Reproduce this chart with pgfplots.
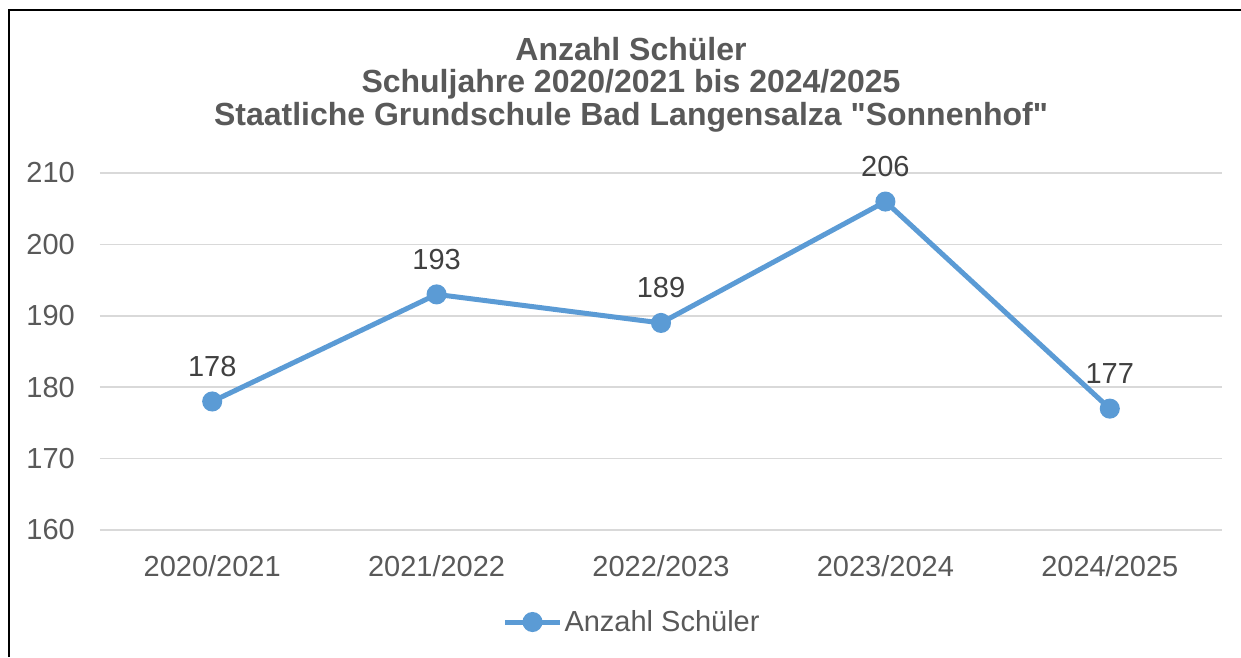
\documentclass[border=0pt]{standalone}
\usepackage{fontspec}
\setmainfont{Liberation Sans}
\usepackage{pgfplots}
\pgfplotsset{compat=1.18}
\definecolor{txt}{HTML}{595959}
\definecolor{lbl}{HTML}{404040}
\definecolor{gridc}{HTML}{D9D9D9}
\definecolor{ser}{HTML}{5B9BD5}
\begin{document}
\begin{tikzpicture}[x=1pt,y=1pt]
\path[use as bounding box] (0,0) rectangle (1241,657);
\draw[line width=2pt, black] (9,0) -- (9,647) -- (1241,647);
\begin{axis}[
  at={(100pt,127pt)}, anchor=south west,
  width=1122pt, height=357pt, scale only axis,
  xmin=-0.5, xmax=4.5, ymin=160, ymax=210,
  axis line style={draw=none},
  ytick={160,170,...,210},
  xtick={0,...,4},
  xticklabels={2020/2021,2021/2022,2022/2023,2023/2024,2024/2025},
  major tick length=0pt,
  ymajorgrids, grid style={gridc, line width=1.5pt},
  /pgf/number format/assume math mode=true,
  yticklabel style={anchor=east, inner sep=0pt, xshift=-25pt, font=\fontsize{29}{33}\selectfont, text=txt},
  xticklabel style={anchor=north, inner sep=0pt, yshift=-25pt, font=\fontsize{29}{33}\selectfont, text=txt},
  title={Anzahl Schüler\\Schuljahre 2020/2021 bis 2024/2025\\Staatliche Grundschule Bad Langensalza \textquotedbl Sonnenhof\textquotedbl},
  title style={at={(axis description cs:0.4733,1.1176)}, anchor=base, align=center, inner sep=0pt, font=\fontsize{32}{32.5}\selectfont\bfseries, text=txt},
  legend style={at={(axis description cs:0.4742,-0.2577)}, anchor=center, draw=none, fill=none, font=\fontsize{29}{33}\selectfont, text=txt},
  legend image code/.code={\draw[mark repeat=2,mark phase=2,#1] plot coordinates {(0pt,0pt) (27.5pt,0pt) (55pt,0pt)};},
  clip=false,
]
\addplot[ser, line width=5pt, mark=*, mark size=7.5pt, mark options={solid, fill=ser, draw=none},
  nodes near coords,
  every node near coord/.append style={anchor=base, yshift=25pt, inner sep=0pt, text=lbl, font=\fontsize{29}{33}\selectfont}]
  coordinates {(0,178) (1,193) (2,189) (3,206) (4,177)};
\addlegendentry{Anzahl Schüler}
\end{axis}
\end{tikzpicture}
\end{document}
